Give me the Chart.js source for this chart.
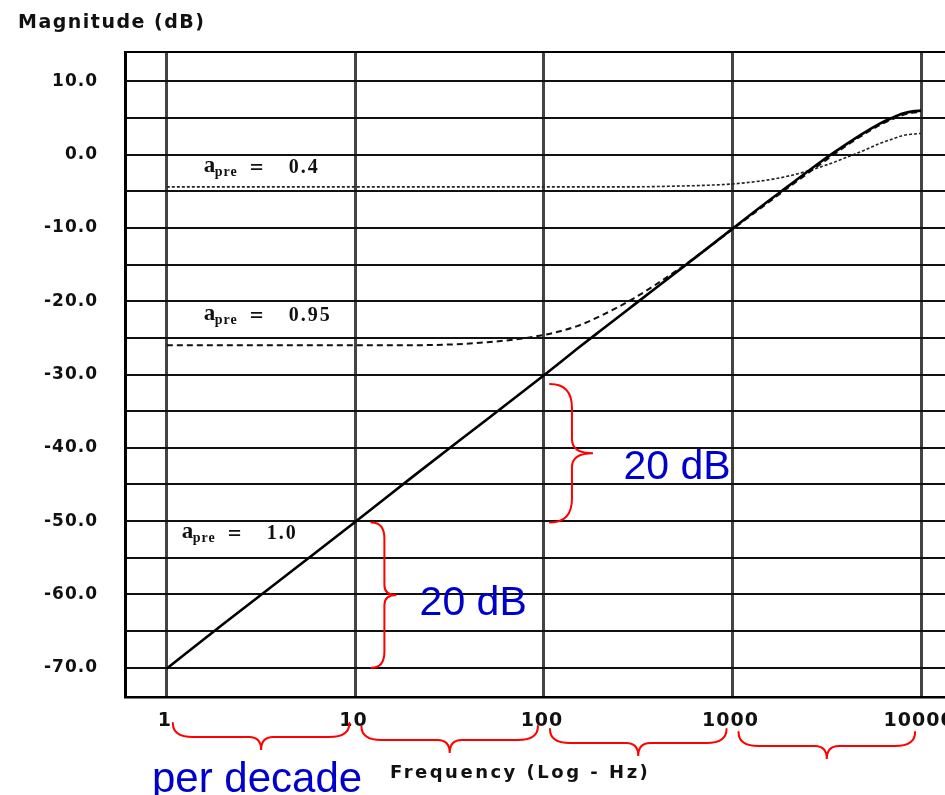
<!DOCTYPE html>
<html>
<head>
<meta charset="utf-8">
<title>Pre-emphasis magnitude response</title>
<script src="https://cdn.jsdelivr.net/npm/chart.js@4.4.1/dist/chart.umd.min.js"></script>
<style>
  html, body { margin: 0; padding: 0; background: #fff; }
  #wrap { width: 945px; height: 795px; position: relative; }
</style>
</head>
<body>
<div id="wrap"><canvas id="chart"></canvas></div>
<script>
// frequencies (Hz) and magnitudes (dB)
const freqs = [1, 2, 5, 10, 20, 50, 100, 150, 200, 300, 500, 700, 1000, 1500, 2000, 3000, 4000, 5000, 6000, 7000, 8000, 9000, 10000];
const magPre10 = [-70.1, -64.0, -56.1, -50.1, -44.0, -36.1, -30.1, -26.5, -24.0, -20.5, -16.1, -13.2, -10.1, -6.6, -4.2, -0.8, 1.4, 3.0, 4.2, 5.0, 5.6, 5.9, 6.0];
const magPre095 = [-26.0, -26.0, -26.0, -26.0, -26.0, -25.6, -24.6, -23.4, -22.0, -19.6, -15.9, -13.2, -10.2, -6.8, -4.4, -1.1, 1.2, 2.8, 4.0, 4.8, 5.4, 5.7, 5.8];
const magPre04 = [-4.4, -4.4, -4.4, -4.4, -4.4, -4.4, -4.4, -4.4, -4.4, -4.4, -4.3, -4.2, -4.0, -3.5, -2.9, -1.6, -0.4, 0.6, 1.5, 2.1, 2.6, 2.8, 2.9];

const xTicks = [1, 10, 100, 1000, 10000];
const yTicks = [-70, -65, -60, -55, -50, -45, -40, -35, -30, -25, -20, -15, -10, -5, 0, 5, 10];

const series = (vals) => freqs.map((f, i) => ({ x: f, y: vals[i] }));

function brace(ctx, x1, y1, x2, y2, spine, tip, r1, r2) {
  const L = Math.hypot(x2 - x1, y2 - y1);
  ctx.save();
  ctx.translate(x1, y1);
  ctx.rotate(Math.atan2(y2 - y1, x2 - x1));
  ctx.beginPath();
  ctx.moveTo(0, 0);
  ctx.quadraticCurveTo(0, spine, r1, spine);
  ctx.lineTo(L / 2 - r2, spine);
  ctx.quadraticCurveTo(L / 2, spine, L / 2, tip);
  ctx.quadraticCurveTo(L / 2, spine, L / 2 + r2, spine);
  ctx.lineTo(L - r1, spine);
  ctx.quadraticCurveTo(L, spine, L, 0);
  ctx.stroke();
  ctx.restore();
}

function preLabel(ctx, x, y, value) {
  ctx.fillStyle = '#111';
  ctx.textAlign = 'left';
  ctx.textBaseline = 'alphabetic';
  ctx.letterSpacing = '0px';
  ctx.font = 'bold 23px "Liberation Serif"';
  ctx.fillText('a', x, y + 5);
  ctx.font = 'bold 14px "Liberation Serif"';
  ctx.letterSpacing = '1px';
  ctx.fillText('pre', x + 11, y + 9);
  ctx.letterSpacing = '0px';
  ctx.font = 'bold 24px "Liberation Serif"';
  ctx.fillText('=', x + 46, y + 8);
  ctx.letterSpacing = '2px';
  ctx.font = 'bold 20px "Liberation Serif"';
  ctx.fillText(value, x + 85, y + 6);
}

const annotate = {
  id: 'annotate',
  beforeDraw(chart) {
    chart.ctx.letterSpacing = '1px';
  },
  beforeDatasetsDraw(chart) {
    const { ctx, chartArea: a } = chart;
    ctx.save();
    ctx.strokeStyle = '#000';
    ctx.lineWidth = 2;
    ctx.beginPath();
    ctx.moveTo(a.left, a.top);
    ctx.lineTo(a.right, a.top);
    ctx.stroke();
    ctx.restore();
  },
  afterDraw(chart) {
    const { ctx, chartArea: a } = chart;
    const sx = chart.scales.x, sy = chart.scales.y;
    const px = (f) => sx.getPixelForValue(f);
    const py = (db) => sy.getPixelForValue(db);
    ctx.save();

    // axis titles
    ctx.fillStyle = '#111';
    ctx.textAlign = 'left';
    ctx.textBaseline = 'alphabetic';
    ctx.font = 'bold 19px "DejaVu Sans"';
    ctx.letterSpacing = '1.5px';
    ctx.fillText('Magnitude (dB)', 18, 28);
    ctx.font = 'bold 18px "DejaVu Sans"';
    ctx.letterSpacing = '2.5px';
    ctx.fillText('Frequency (Log - Hz)', 390, 778);

    // curve labels
    preLabel(ctx, px(1.57), py(-1.7), '0.4');
    preLabel(ctx, px(1.57), py(-21.9), '0.95');
    preLabel(ctx, px(1.2), py(-51.6), '1.0');

    // red braces
    ctx.strokeStyle = '#ff0000';
    ctx.lineWidth = 2;
    ctx.lineCap = 'round';
    brace(ctx, px(100) + 6, py(-31.3), px(100) + 6, py(-50.2), -22, -43, 24, 14);
    brace(ctx, px(10) + 16, py(-50.2), px(10) + 16, py(-70), -13, -25, 16, 10);
    for (let i = 0; i < xTicks.length - 1; i++) {
      const yTop = a.bottom + 26 + 3 * i;
      brace(ctx, px(xTicks[i]) + 6, yTop, px(xTicks[i + 1]) - 6, yTop, 14, 27, 20, 12);
    }

    // blue notes
    ctx.fillStyle = '#0000cc';
    ctx.letterSpacing = '0px';
    ctx.font = '41px "Liberation Sans"';
    ctx.fillText('20 dB', px(264), py(-44.2));
    ctx.fillText('20 dB', px(21.9), py(-62.8));
    ctx.font = '42px "Liberation Sans"';
    ctx.fillText('per decade', 152, 792);

    ctx.restore();
    ctx.letterSpacing = '0px';
  }
};

new Chart(document.getElementById('chart'), {
  type: 'line',
  data: {
    datasets: [
      { label: 'a_pre = 1.0', data: series(magPre10), borderColor: '#000', borderWidth: 2.6 },
      { label: 'a_pre = 0.95', data: series(magPre095), borderColor: '#111', borderWidth: 2, borderDash: [6, 4] },
      { label: 'a_pre = 0.4', data: series(magPre04), borderColor: '#222', borderWidth: 1.6, borderDash: [3, 2] }
    ]
  },
  options: {
    responsive: true,
    maintainAspectRatio: false,
    animation: false,
    events: [],
    layout: { padding: { top: 52, left: 0, right: 0, bottom: 0 } },
    elements: {
      point: { radius: 0 },
      line: { cubicInterpolationMode: 'monotone', fill: false }
    },
    plugins: {
      legend: { display: false },
      title: { display: false },
      tooltip: { enabled: false }
    },
    scales: {
      x: {
        type: 'logarithmic',
        min: 0.63,
        max: 13390,
        afterBuildTicks: (scale) => { scale.ticks = xTicks.map(v => ({ value: v })); },
        afterFit: (scale) => { scale.height = 98; scale.paddingLeft = 0; scale.paddingRight = 0; },
        grid: { color: '#444', lineWidth: 3, drawTicks: false },
        border: { display: true, color: '#000', width: 2.5 },
        ticks: {
          autoSkip: false,
          maxRotation: 0,
          padding: 13,
          labelOffset: -2,
          color: '#111',
          font: { family: 'DejaVu Sans', size: 19, weight: 'bold' },
          callback: (v) => String(v)
        }
      },
      y: {
        min: -74,
        max: 14,
        afterBuildTicks: (scale) => { scale.ticks = yTicks.map(v => ({ value: v })); },
        afterFit: (scale) => { scale.width = 125; scale.paddingTop = 0; scale.paddingBottom = 0; },
        grid: { color: '#111', lineWidth: 2, drawTicks: false },
        border: { display: true, color: '#000', width: 3 },
        ticks: {
          padding: 27,
          color: '#111',
          font: { family: 'DejaVu Sans', size: 17, weight: 'bold' },
          callback: (v) => (v % 10 === 0 ? v.toFixed(1) : '')
        }
      }
    }
  },
  plugins: [annotate]
});
</script>
</body>
</html>
